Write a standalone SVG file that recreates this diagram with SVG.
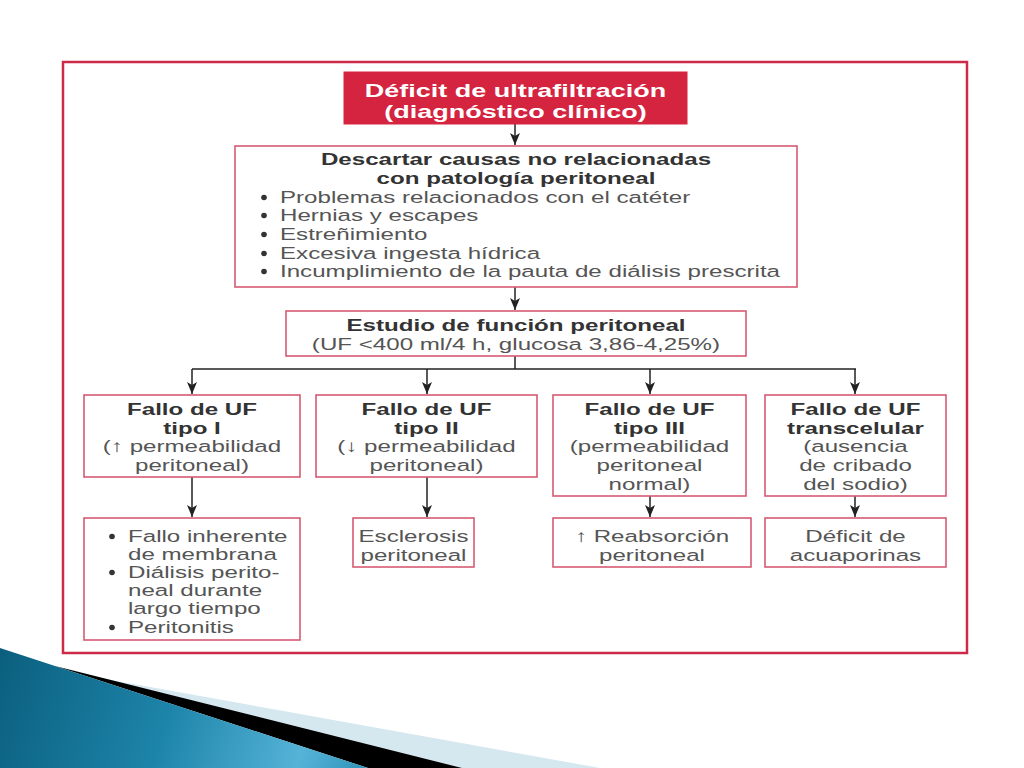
<svg xmlns="http://www.w3.org/2000/svg" width="1024" height="768" viewBox="0 0 1024 768">
<style>
.frame{fill:none;stroke:#cc2a46;stroke-width:2.5}
.box{fill:#fff;stroke:#d65a72;stroke-width:1.6}
.tb{fill:#d4243f;stroke:#d4243f;stroke-width:1}
.t{font-family:"Liberation Sans",Arial,sans-serif;font-weight:bold;font-size:19px;fill:#fff;text-anchor:middle}
.b{font-family:"Liberation Sans",Arial,sans-serif;font-weight:bold;font-size:17px;fill:#333;text-anchor:middle}
.r{font-family:"Liberation Sans",Arial,sans-serif;font-size:17px;fill:#555;text-anchor:middle}
.l{font-family:"Liberation Sans",Arial,sans-serif;font-size:17px;fill:#555;text-anchor:start}
.dot{fill:#333}
.c line{stroke:#222;stroke-width:1.5;fill:none}
</style>
<defs>
<marker id="ah" viewBox="0 0 12 10" refX="12" refY="5" markerWidth="12" markerHeight="10" markerUnits="userSpaceOnUse" orient="auto">
<path d="M0,0 L12,5 L0,10 L3,5 z" fill="#222"/>
</marker>
<linearGradient id="blue" gradientUnits="userSpaceOnUse" x1="0" y1="650" x2="380" y2="768">
<stop offset="0" stop-color="#0b5f7e"/>
<stop offset="0.45" stop-color="#1d84a9"/>
<stop offset="0.8" stop-color="#55b3d7"/>
<stop offset="1" stop-color="#2a8db3"/>
</linearGradient>
</defs>
<rect width="1024" height="768" fill="#fff"/>

<g id="decoration">
<polygon points="100,678 600,768 460,768" fill="#d5e7ef"/>
<polygon points="55,666 462,768 368,768" fill="#000"/>
<polygon points="0,648 55,666 368,768 0,768" fill="url(#blue)"/>
</g>

<rect class="frame" x="63" y="62" width="904" height="591"/>

<g class="c" id="connectors">
<line x1="515" y1="124" x2="515" y2="145" marker-end="url(#ah)"/>
<line x1="515" y1="287" x2="515" y2="310" marker-end="url(#ah)"/>
<line x1="515" y1="356" x2="515" y2="369"/>
<line x1="192" y1="369" x2="856" y2="369"/>
<line x1="192" y1="369" x2="192" y2="394" marker-end="url(#ah)"/>
<line x1="427" y1="369" x2="427" y2="394" marker-end="url(#ah)"/>
<line x1="650" y1="369" x2="650" y2="394" marker-end="url(#ah)"/>
<line x1="855" y1="369" x2="855" y2="394" marker-end="url(#ah)"/>
<line x1="192" y1="477" x2="192" y2="517" marker-end="url(#ah)"/>
<line x1="427" y1="477" x2="427" y2="517" marker-end="url(#ah)"/>
<line x1="650" y1="496" x2="650" y2="517" marker-end="url(#ah)"/>
<line x1="855" y1="496" x2="855" y2="517" marker-end="url(#ah)"/>
</g>

<g id="n-deficit">
<rect class="tb" x="344" y="72" width="343" height="52"/>
<g transform="scale(1.42 1)">
<text class="t" x="363.03" y="97">Déficit de ultrafiltración</text>
<text class="t" x="363.03" y="118">(diagnóstico clínico)</text>
</g>
</g>

<g id="n-descartar">
<rect class="box" x="235" y="146" width="562" height="141"/>
<circle class="dot" cx="264" cy="197.5" r="2.8"/>
<circle class="dot" cx="264" cy="215.5" r="2.8"/>
<circle class="dot" cx="264" cy="234.5" r="2.8"/>
<circle class="dot" cx="264" cy="253.5" r="2.8"/>
<circle class="dot" cx="264" cy="271.5" r="2.8"/>
<g transform="scale(1.42 1)">
<text class="b" x="363.38" y="165">Descartar causas no relacionadas</text>
<text class="b" x="363.38" y="184">con patología peritoneal</text>
<text class="l" x="197.18" y="203">Problemas relacionados con el catéter</text>
<text class="l" x="197.18" y="221">Hernias y escapes</text>
<text class="l" x="197.18" y="240">Estreñimiento</text>
<text class="l" x="197.18" y="259">Excesiva ingesta hídrica</text>
<text class="l" x="197.18" y="277">Incumplimiento de la pauta de diálisis prescrita</text>
</g>
</g>

<g id="n-estudio">
<rect class="box" x="286" y="311" width="460" height="45"/>
<g transform="scale(1.42 1)">
<text class="b" x="363.38" y="331">Estudio de función peritoneal</text>
<text class="r" x="363.38" y="350">(UF &lt;400 ml/4 h, glucosa 3,86-4,25%)</text>
</g>
</g>

<g id="n-tipo1">
<rect class="box" x="84" y="395" width="216" height="82"/>
<g transform="scale(1.42 1)">
<text class="b" x="135.21" y="415">Fallo de UF</text>
<text class="b" x="135.21" y="434">tipo I</text>
<text class="r" x="135.21" y="452">(↑ permeabilidad</text>
<text class="r" x="135.21" y="471">peritoneal)</text>
</g>
</g>

<g id="n-tipo2">
<rect class="box" x="316" y="395" width="221" height="82"/>
<g transform="scale(1.42 1)">
<text class="b" x="300.35" y="415">Fallo de UF</text>
<text class="b" x="300.35" y="434">tipo II</text>
<text class="r" x="300.35" y="452">(↓ permeabilidad</text>
<text class="r" x="300.35" y="471">peritoneal)</text>
</g>
</g>

<g id="n-tipo3">
<rect class="box" x="553" y="395" width="193" height="101"/>
<g transform="scale(1.42 1)">
<text class="b" x="457.39" y="415">Fallo de UF</text>
<text class="b" x="457.39" y="434">tipo III</text>
<text class="r" x="457.39" y="452">(permeabilidad</text>
<text class="r" x="457.39" y="471">peritoneal</text>
<text class="r" x="457.39" y="490">normal)</text>
</g>
</g>

<g id="n-transcelular">
<rect class="box" x="765" y="395" width="181" height="101"/>
<g transform="scale(1.42 1)">
<text class="b" x="602.46" y="415">Fallo de UF</text>
<text class="b" x="602.46" y="434">transcelular</text>
<text class="r" x="602.46" y="452">(ausencia</text>
<text class="r" x="602.46" y="471">de cribado</text>
<text class="r" x="602.46" y="490">del sodio)</text>
</g>
</g>

<g id="n-causas1">
<rect class="box" x="84" y="518" width="216" height="122"/>
<circle class="dot" cx="112" cy="536.5" r="2.8"/>
<circle class="dot" cx="112" cy="572.5" r="2.8"/>
<circle class="dot" cx="112" cy="627.5" r="2.8"/>
<g transform="scale(1.42 1)">
<text class="l" x="90.14" y="542">Fallo inherente</text>
<text class="l" x="90.14" y="560">de membrana</text>
<text class="l" x="90.14" y="578">Diálisis perito-</text>
<text class="l" x="90.14" y="596">neal durante</text>
<text class="l" x="90.14" y="614">largo tiempo</text>
<text class="l" x="90.14" y="633">Peritonitis</text>
</g>
</g>

<g id="n-esclerosis">
<rect class="box" x="353" y="518" width="121" height="49"/>
<g transform="scale(1.42 1)">
<text class="r" x="291.20" y="542">Esclerosis</text>
<text class="r" x="291.20" y="561">peritoneal</text>
</g>
</g>

<g id="n-reabsorcion">
<rect class="box" x="553" y="518" width="198" height="49"/>
<g transform="scale(1.42 1)">
<text class="r" x="459.15" y="542">↑ Reabsorción</text>
<text class="r" x="459.15" y="561">peritoneal</text>
</g>
</g>

<g id="n-acuaporinas">
<rect class="box" x="765" y="518" width="181" height="49"/>
<g transform="scale(1.42 1)">
<text class="r" x="602.46" y="542">Déficit de</text>
<text class="r" x="602.46" y="561">acuaporinas</text>
</g>
</g>
</svg>
